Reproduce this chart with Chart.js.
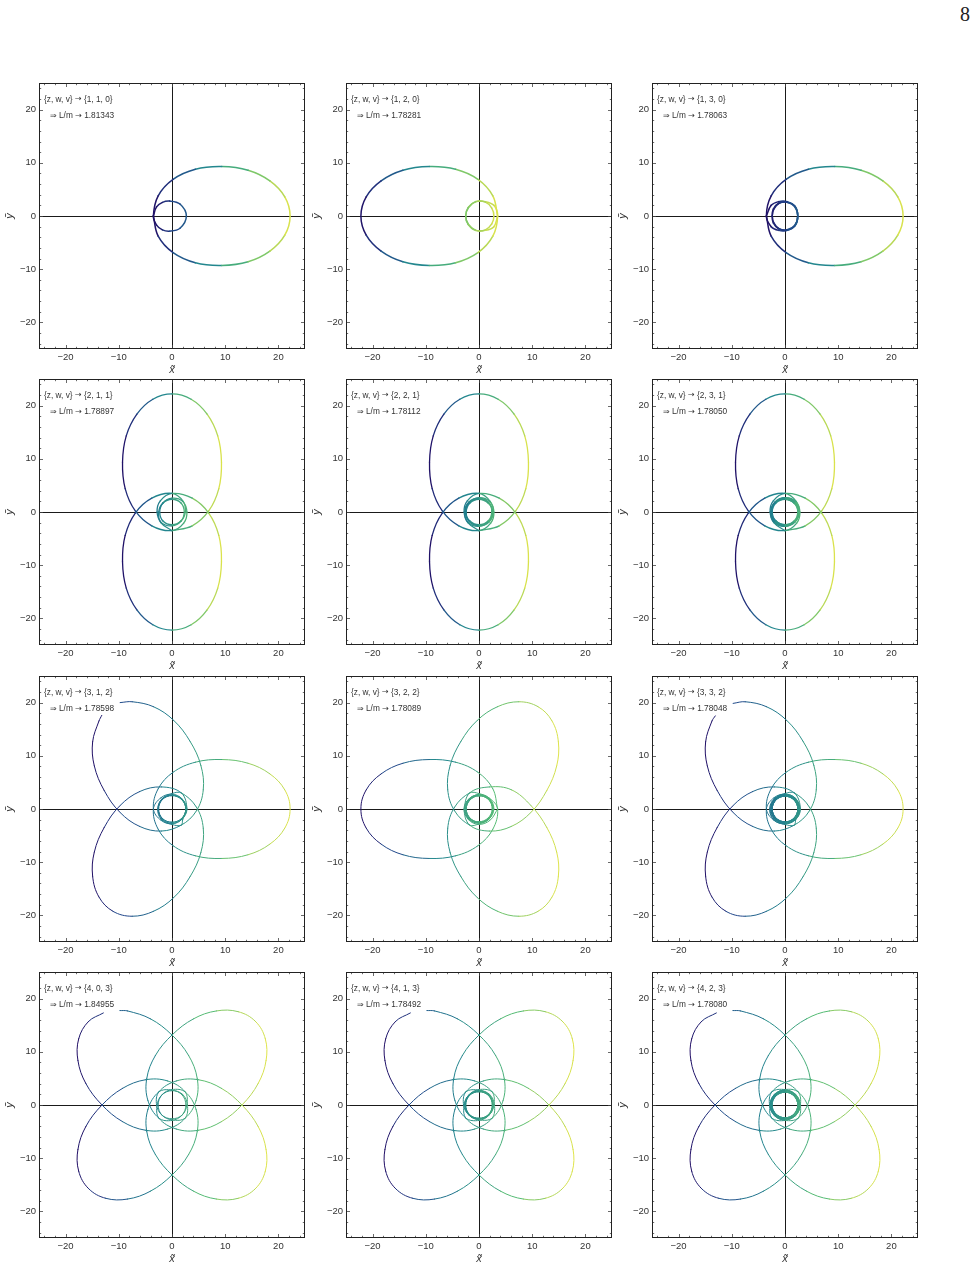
<!DOCTYPE html>
<html>
<head>
<meta charset="utf-8">
<script src="https://cdn.jsdelivr.net/npm/chart.js@4.4.1/dist/chart.umd.min.js"></script>
<style>
  html, body { margin: 0; padding: 0; background: #fff; }
  body { width: 976px; height: 1269px; position: relative; overflow: hidden; }
  .panel { position: absolute; }
  #pageNum { position: absolute; left: 960px; top: 3px; font: 20px 'Liberation Serif', 'Times New Roman', serif; color: #222; }
</style>
</head>
<body>
<div id="pageNum">8</div>
<script>
// orbit labels, row by row
const zwv = [[1, 1, 0], [1, 2, 0], [1, 3, 0], [2, 1, 1], [2, 2, 1], [2, 3, 1], [3, 1, 2], [3, 2, 2], [3, 3, 2], [4, 0, 3], [4, 1, 3], [4, 2, 3]];
const lOverM = ['1.81343', '1.78281', '1.78063', '1.78897', '1.78112', '1.78050', '1.78598', '1.78089', '1.78048', '1.84955', '1.78492', '1.78080'];
const tickValues = [-20, -10, 0, 10, 20];
const minorTicks = [-24, -22, -18, -16, -14, -12, -8, -6, -4, -2, 2, 4, 6, 8, 12, 14, 16, 18, 22, 24];

// leaves: periapsis -> apoapsis -> periapsis, counter-clockwise
const leafE = [[-3.5, 0], [-2.6, -3.8], [0.2, -6.9], [4.4, -8.8], [9.35, -9.3], [14.3, -8.6], [18.4, -6.6], [21.2, -3.6], [22.2, 0], [21.2, 3.6], [18.4, 6.6], [14.3, 8.6], [9.35, 9.3], [4.4, 8.8], [0.2, 6.9], [-2.6, 3.8], [-3.5, 0]];
const leafW = [[3.5, 0], [2.6, 3.8], [-0.2, 6.9], [-4.4, 8.8], [-9.35, 9.3], [-14.3, 8.6], [-18.4, 6.6], [-21.2, 3.6], [-22.2, 0], [-21.2, -3.6], [-18.4, -6.6], [-14.3, -8.6], [-9.35, -9.3], [-4.4, -8.8], [-0.2, -6.9], [2.6, -3.8], [3.5, 0]];
const leafN = [[0, -3.5], [3.8, -2.6], [6.9, 0.2], [8.8, 4.4], [9.3, 9.35], [8.6, 14.3], [6.6, 18.4], [3.6, 21.2], [0, 22.2], [-3.6, 21.2], [-6.6, 18.4], [-8.6, 14.3], [-9.3, 9.35], [-8.8, 4.4], [-6.9, 0.2], [-3.8, -2.6], [0, -3.5]];
const leafS = [[0, 3.5], [-3.8, 2.6], [-6.9, -0.2], [-8.8, -4.4], [-9.3, -9.35], [-8.6, -14.3], [-6.6, -18.4], [-3.6, -21.2], [0, -22.2], [3.6, -21.2], [6.6, -18.4], [8.6, -14.3], [9.3, -9.35], [8.8, -4.4], [6.9, -0.2], [3.8, 2.6], [0, 3.5]];
const leaf120 = [[1.75, -3.03], [4.59, -0.35], [5.88, 3.62], [5.42, 8.21], [3.38, 12.75], [0.3, 16.68], [-3.48, 19.23], [-7.48, 20.16], [-11.1, 19.23], [-13.72, 16.56], [-14.92, 12.63], [-14.6, 8.08], [-12.73, 3.45], [-9.82, -0.59], [-6.08, -3.28], [-1.99, -4.15], [1.75, -3.03]];
const leaf240 = [[1.75, 3.03], [-1.99, 4.15], [-6.08, 3.28], [-9.82, 0.59], [-12.73, -3.45], [-14.6, -8.08], [-14.92, -12.63], [-13.72, -16.56], [-11.1, -19.23], [-7.48, -20.16], [-3.48, -19.23], [0.3, -16.68], [3.38, -12.75], [5.42, -8.21], [5.88, -3.62], [4.59, 0.35], [1.75, 3.03]];
const leaf60 = [[-1.75, -3.03], [1.99, -4.15], [6.08, -3.28], [9.82, -0.59], [12.73, 3.45], [14.6, 8.08], [14.92, 12.63], [13.72, 16.56], [11.1, 19.23], [7.48, 20.16], [3.48, 19.23], [-0.3, 16.68], [-3.38, 12.75], [-5.42, 8.21], [-5.88, 3.62], [-4.59, -0.35], [-1.75, -3.03]];
const leaf300 = [[-1.75, 3.03], [-4.59, 0.35], [-5.88, -3.62], [-5.42, -8.21], [-3.38, -12.75], [-0.3, -16.68], [3.48, -19.23], [7.48, -20.16], [11.1, -19.23], [13.72, -16.56], [14.92, -12.63], [14.6, -8.08], [12.73, -3.45], [9.82, 0.59], [6.08, 3.62], [1.99, 4.15], [-1.75, 3.03]];
const leaf45 = [[-2.47, -2.47], [0.85, -4.53], [5.02, -4.74], [9.33, -3.11], [13.19, 0.04], [16.19, 4.03], [17.68, 8.34], [17.54, 12.45], [15.7, 15.7], [12.45, 17.54], [8.34, 17.68], [4.03, 16.19], [0.04, 13.19], [-3.11, 9.33], [-4.74, 5.02], [-4.53, 0.85], [-2.47, -2.47]];
const leaf135 = [[2.47, -2.47], [4.53, 0.85], [4.74, 5.02], [3.11, 9.33], [-0.04, 13.19], [-4.03, 16.19], [-8.34, 17.68], [-12.45, 17.54], [-15.7, 15.7], [-17.54, 12.45], [-17.68, 8.34], [-16.19, 4.03], [-13.19, 0.04], [-9.33, -3.11], [-5.02, -4.74], [-0.85, -4.53], [2.47, -2.47]];
const leaf225 = [[2.47, 2.47], [-0.85, 4.53], [-5.02, 4.74], [-9.33, 3.11], [-13.19, -0.04], [-16.19, -4.03], [-17.68, -8.34], [-17.54, -12.45], [-15.7, -15.7], [-12.45, -17.54], [-8.34, -17.68], [-4.03, -16.19], [-0.04, -13.19], [3.11, -9.33], [4.74, -5.02], [4.53, -0.85], [2.47, 2.47]];
const leaf315 = [[-2.47, 2.47], [-4.53, -0.85], [-4.74, -5.02], [-3.11, -9.33], [0.04, -13.19], [4.03, -16.19], [8.34, -17.68], [12.45, -17.54], [15.7, -15.7], [17.54, -12.45], [17.68, -8.34], [16.19, -4.03], [13.19, -0.04], [9.33, 3.11], [5.02, 4.74], [0.85, 4.53], [-2.47, 2.47]];

// whirls between leaves (inner points only)
const whirlA = [[-2.9, -1.7], [-1.8, -2.6], [-0.45, -2.85], [1.5, -2.3], [2.7, 0], [1.5, 2.25], [-0.45, 2.8], [-1.8, 2.55], [-2.9, 1.7]];
const whirlB = [[2.8, 2.0], [1.2, 2.7], [-0.6, 2.7], [-2.0, 1.6], [-2.5, 0], [-2.0, -1.6], [-0.6, -2.7], [1.2, -2.6], [2.4, -1.5], [2.8, 0], [2.4, 1.5], [1.2, 2.6], [-0.6, 2.7], [-2.0, 1.6], [-2.5, 0], [-2.0, -1.6], [-0.6, -2.7], [1.2, -2.7], [2.8, -2.0]];
const whirlC = [[-2.6, -2.0], [-1.2, -2.7], [0.4, -2.7], [1.9, -1.8], [2.4, 0], [1.9, 1.8], [0.4, 2.6], [-1.2, 2.4], [-2.2, 1.3], [-2.4, 0],
  [-2.1, -1.3], [-1.1, -2.4], [0.4, -2.6], [1.8, -1.8], [2.4, 0], [1.8, 1.8], [0.4, 2.6], [-1.1, 2.4], [-2.1, 1.3], [-2.4, 0],
  [-2.2, -1.3], [-1.2, -2.4], [0.4, -2.7], [1.9, -1.8], [2.4, 0], [1.9, 1.8], [0.4, 2.7], [-1.2, 2.7], [-2.6, 2.0]];
const whirlD1 = [[2.2, -2.1], [2.8, 0], [2.0, 2.0], [0, 2.6], [-1.7, 1.7], [-2.3, 0], [-1.7, -1.7], [0, -2.4], [1.7, -1.7], [2.5, 0], [2.1, 2.0]];
const whirlD2 = [[-2.2, 2.1], [-2.8, 0], [-2.0, -2.0], [0, -2.6], [1.7, -1.7], [2.3, 0], [1.7, 1.7], [0, 2.4], [-1.7, 1.7], [-2.5, 0], [-2.1, -2.0]];
const whirlE1 = [[2.2, -2.1], [2.8, 0], [2.0, 2.0], [0, 2.7], [-1.8, 1.8], [-2.5, 0], [-1.8, -1.8], [0, -2.5], [1.8, -1.8], [2.6, 0], [1.7, 1.7], [0, 2.4], [-1.7, 1.7], [-2.4, 0], [-1.8, -1.8], [0, -2.6], [1.9, -1.9], [2.7, 0], [2.1, 2.0]];
const whirlE2 = [[-2.2, 2.1], [-2.8, 0], [-2.0, -2.0], [0, -2.7], [1.8, -1.8], [2.5, 0], [1.8, 1.8], [0, 2.5], [-1.8, 1.8], [-2.6, 0], [-1.7, -1.7], [0, -2.4], [1.7, -1.7], [2.4, 0], [1.8, 1.8], [0, 2.6], [-1.9, 1.9], [-2.7, 0], [-2.1, -2.0]];
const whirlF1 = [[2.2, -2.1], [2.8, 0], [2.0, 2.0], [0, 2.7], [-1.8, 1.8], [-2.5, 0], [-1.8, -1.8], [0, -2.5], [1.8, -1.8], [2.6, 0], [1.7, 1.7], [0, 2.4], [-1.7, 1.7], [-2.4, 0], [-1.7, -1.7], [0, -2.4], [1.8, -1.8], [2.5, 0], [1.8, 1.8], [0, 2.6], [-1.8, 1.8], [-2.6, 0], [-1.9, -1.9], [0, -2.7], [1.9, -1.9], [2.7, 0], [2.1, 2.0]];
const whirlF2 = [[-2.2, 2.1], [-2.8, 0], [-2.0, -2.0], [0, -2.7], [1.8, -1.8], [2.5, 0], [1.8, 1.8], [0, 2.5], [-1.8, 1.8], [-2.6, 0], [-1.7, -1.7], [0, -2.4], [1.7, -1.7], [2.4, 0], [1.7, 1.7], [0, 2.4], [-1.8, 1.8], [-2.5, 0], [-1.8, -1.8], [0, -2.6], [1.8, -1.8], [2.6, 0], [1.9, 1.9], [0, 2.7], [-1.9, 1.9], [-2.7, 0], [-2.1, -2.0]];
const whirlG1 = [[2.0, -2.0], [2.8, 0], [1.9, 1.9], [0, 2.6], [-1.8, 1.8], [-2.5, 0], [-1.8, -1.8], [0, -2.5], [1.8, -1.8], [2.6, 0], [1.9, 1.9], [0, 2.8], [-2.1, 2.1]];
const whirlG2 = [[-2.1, -2.1], [0, -2.8], [1.9, -1.9], [2.6, 0], [1.8, 1.8], [0, 2.5], [-1.8, 1.8], [-2.6, 0], [-1.9, -1.9], [0, -2.7], [1.9, -1.9], [2.8, 0]];
const whirlG3 = [[0, 2.9], [-1.9, 1.9], [-2.6, 0], [-1.8, -1.8], [0, -2.5], [1.8, -1.8], [2.6, 0], [1.8, 1.8], [0, 2.6], [-1.9, 1.9], [-2.7, 0], [-2.0, -2.0], [0, -2.9]];
const whirlH1 = [[2.0, 2.0], [0, 2.7], [-1.8, 1.8], [-2.5, 0], [-1.8, -1.8], [0, -2.5], [1.8, -1.8], [2.6, 0], [1.8, 1.8], [0, 2.5], [-1.7, 1.7], [-2.4, 0], [-1.7, -1.7], [0, -2.5], [1.8, -1.8], [2.7, 0], [1.9, 1.9], [0, 2.7], [-1.9, 1.9], [-2.8, 0]];
const whirlH2 = [[0, -2.8], [1.9, -1.9], [2.6, 0], [1.8, 1.8], [0, 2.5], [-1.8, 1.8], [-2.5, 0], [-1.8, -1.8], [0, -2.4], [1.7, -1.7], [2.5, 0], [1.8, 1.8], [0, 2.6], [-1.8, 1.8], [-2.6, 0], [-1.9, -1.9], [0, -2.7], [1.9, -1.9], [2.8, 0], [2.0, 2.0], [0, 2.9]];
const whirlH3 = [[-2.7, 0], [-1.9, -1.9], [0, -2.6], [1.8, -1.8], [2.5, 0], [1.8, 1.8], [0, 2.5], [-1.7, 1.7], [-2.4, 0], [-1.7, -1.7], [0, -2.5], [1.8, -1.8], [2.6, 0], [1.9, 1.9], [0, 2.7], [-1.9, 1.9], [-2.8, 0], [-2.0, -2.0], [0, -2.9], [2.1, -2.1]];
const whirlI1 = [[2.0, -2.0], [2.8, 0], [1.9, 1.9], [0, 2.6], [-1.8, 1.8], [-2.5, 0], [-1.8, -1.8], [0, -2.5], [1.7, -1.7], [2.4, 0], [1.7, 1.7], [0, 2.4], [-1.7, 1.7], [-2.4, 0], [-1.7, -1.7], [0, -2.4], [1.8, -1.8], [2.5, 0], [1.8, 1.8], [0, 2.6], [-1.9, 1.9], [-2.6, 0], [-1.9, -1.9], [0, -2.7], [1.9, -1.9], [2.7, 0], [2.0, 2.0], [0, 2.8], [-2.1, 2.1]];
const whirlI2 = [[-2.1, -2.1], [0, -2.8], [1.9, -1.9], [2.6, 0], [1.8, 1.8], [0, 2.5], [-1.7, 1.7], [-2.4, 0], [-1.7, -1.7], [0, -2.4], [1.7, -1.7], [2.4, 0], [1.7, 1.7], [0, 2.5], [-1.8, 1.8], [-2.5, 0], [-1.8, -1.8], [0, -2.6], [1.9, -1.9], [2.7, 0], [1.9, 1.9], [0, 2.7], [-1.9, 1.9], [-2.8, 0], [-2.0, -2.0], [0, -2.8], [2.0, -2.0], [2.9, 0]];
const whirlI3 = [[0, 2.9], [-1.9, 1.9], [-2.6, 0], [-1.8, -1.8], [0, -2.5], [1.7, -1.7], [2.4, 0], [1.7, 1.7], [0, 2.4], [-1.7, 1.7], [-2.4, 0], [-1.7, -1.7], [0, -2.5], [1.8, -1.8], [2.6, 0], [1.8, 1.8], [0, 2.6], [-1.9, 1.9], [-2.7, 0], [-1.9, -1.9], [0, -2.7], [2.0, -2.0], [2.8, 0], [2.0, 2.0], [0, 2.8], [-2.0, 2.0], [-2.9, 0], [-2.1, -2.1], [0, -2.9]];
const whirlJ1 = [[2.9, 0], [2.0, 2.0], [0, 2.7], [-1.9, 1.9], [-2.8, 0]];
const whirlJ2 = [[0, -2.9], [1.9, -1.9], [2.6, 0], [1.9, 1.9], [0, 2.8]];
const whirlJ3 = [[-2.9, 0], [-1.9, -1.9], [0, -2.6], [1.9, -1.9], [2.8, 0]];
const whirlJ4 = [[0, 2.9], [-1.9, 1.9], [-2.6, 0], [-1.9, -1.9], [0, -2.8]];
const whirlK1 = [[2.9, 0], [2.0, 2.0], [0, 2.7], [-1.8, 1.8], [-2.5, 0], [-1.8, -1.8], [0, -2.5], [1.8, -1.8], [2.6, 0], [1.9, 1.9], [0, 2.7], [-1.9, 1.9], [-2.8, 0]];
const whirlK2 = [[0, -2.9], [1.9, -1.9], [2.6, 0], [1.8, 1.8], [0, 2.5], [-1.8, 1.8], [-2.5, 0], [-1.8, -1.8], [0, -2.6], [1.9, -1.9], [2.7, 0], [1.9, 1.9], [0, 2.8]];
const whirlK3 = [[-2.9, 0], [-1.9, -1.9], [0, -2.6], [1.8, -1.8], [2.5, 0], [1.8, 1.8], [0, 2.5], [-1.8, 1.8], [-2.6, 0], [-1.9, -1.9], [0, -2.7], [1.9, -1.9], [2.8, 0]];
const whirlK4 = [[0, 2.9], [-1.9, 1.9], [-2.6, 0], [-1.8, -1.8], [0, -2.5], [1.8, -1.8], [2.5, 0], [1.8, 1.8], [0, 2.6], [-1.9, 1.9], [-2.7, 0], [-1.9, -1.9], [0, -2.8]];
const whirlL1 = [[2.9, 0], [2.0, 2.0], [0, 2.7], [-1.8, 1.8], [-2.5, 0], [-1.7, -1.7], [0, -2.4], [1.7, -1.7], [2.4, 0], [1.7, 1.7], [0, 2.5], [-1.8, 1.8], [-2.5, 0], [-1.8, -1.8], [0, -2.6], [1.9, -1.9], [2.7, 0], [1.9, 1.9], [0, 2.8], [-2.0, 2.0], [-2.8, 0]];
const whirlL2 = [[0, -2.9], [1.9, -1.9], [2.6, 0], [1.8, 1.8], [0, 2.4], [-1.7, 1.7], [-2.4, 0], [-1.7, -1.7], [0, -2.5], [1.8, -1.8], [2.5, 0], [1.8, 1.8], [0, 2.6], [-1.9, 1.9], [-2.7, 0], [-1.9, -1.9], [0, -2.7], [2.0, -2.0], [2.8, 0], [2.0, 2.0], [0, 2.9]];
const whirlL3 = [[-2.9, 0], [-1.9, -1.9], [0, -2.6], [1.7, -1.7], [2.4, 0], [1.7, 1.7], [0, 2.4], [-1.7, 1.7], [-2.5, 0], [-1.8, -1.8], [0, -2.6], [1.9, -1.9], [2.6, 0], [1.9, 1.9], [0, 2.7], [-1.9, 1.9], [-2.8, 0], [-2.0, -2.0], [0, -2.8], [2.0, -2.0], [2.9, 0]];
const whirlL4 = [[0, 2.9], [-1.9, 1.9], [-2.6, 0], [-1.7, -1.7], [0, -2.4], [1.7, -1.7], [2.4, 0], [1.7, 1.7], [0, 2.5], [-1.8, 1.8], [-2.6, 0], [-1.9, -1.9], [0, -2.6], [1.9, -1.9], [2.7, 0], [1.9, 1.9], [0, 2.8], [-2.0, 2.0], [-2.8, 0], [-2.0, -2.0], [0, -2.9]];

// open ends of the orbits that do not close (start, end)
const gapG = [[-13.2, 17.6], [-9.75, 20.0]];
const gapI = [[-13.1, 17.5], [-9.75, 19.85]];
const gapRow4 = [[-12.9, 17.3], [-9.8, 17.75]];

const paths = [
  [...leafE, ...whirlA, leafE[0]],
  [...leafW, ...whirlB, leafW[0]],
  [...leafE, ...whirlC, leafE[0]],
  [...leafN, ...whirlD1, ...leafS, ...whirlD2, leafN[0]],
  [...leafN, ...whirlE1, ...leafS, ...whirlE2, leafN[0]],
  [...leafN, ...whirlF1, ...leafS, ...whirlF2, leafN[0]],
  [gapG[0], ...leaf120.slice(9), ...whirlG1, ...leafE, ...whirlG2, ...leaf240, ...whirlG3, ...leaf120.slice(0, 8), gapG[1]],
  [...leafW, ...whirlH1, ...leaf60, ...whirlH2, ...leaf300, ...whirlH3, leafW[0]],
  [gapI[0], ...leaf120.slice(9), ...whirlI1, ...leafE, ...whirlI2, ...leaf240, ...whirlI3, ...leaf120.slice(0, 8), gapI[1]],
  [gapRow4[0], ...leaf135.slice(8), ...whirlJ1, ...leaf45, ...whirlJ2, ...leaf315, ...whirlJ3, ...leaf225, ...whirlJ4, ...leaf135.slice(0, 7), gapRow4[1]],
  [gapRow4[0], ...leaf135.slice(8), ...whirlK1, ...leaf45, ...whirlK2, ...leaf315, ...whirlK3, ...leaf225, ...whirlK4, ...leaf135.slice(0, 7), gapRow4[1]],
  [gapRow4[0], ...leaf135.slice(8), ...whirlL1, ...leaf45, ...whirlL2, ...leaf315, ...whirlL3, ...leaf225, ...whirlL4, ...leaf135.slice(0, 7), gapRow4[1]]
];

// layout of the plot frames on the page
const colLeft = [39, 346, 652];
const rowTop = [83, 379, 676, 972];
const rowLineWidth = [1.5, 1.3, 1.0, 1.0];
const family = "'Liberation Sans', Arial, sans-serif";

// blue-green-yellow gradient
const gradStops = [[0, [32, 12, 100]], [0.15, [32, 70, 138]], [0.4, [34, 134, 142]], [0.68, [86, 188, 116]], [1, [224, 228, 74]]];
function gradColor(t) {
  t = Math.min(1, Math.max(0, t));
  for (let i = 1; i < gradStops.length; i++) {
    if (t <= gradStops[i][0]) {
      const [t0, c0] = gradStops[i - 1];
      const [t1, c1] = gradStops[i];
      const f = (t - t0) / (t1 - t0);
      return 'rgb(' + c0.map((c, k) => Math.round(c + (c1[k] - c) * f)).join(',') + ')';
    }
  }
  return 'rgb(224,228,74)';
}

// label text with the arrows taken from DejaVu, whose arrows are longer
function drawLabel(ctx, text, x, y) {
  let cx = x;
  text.split(/([\u2192\u21D2])/).forEach(part => {
    if (!part) return;
    const arrow = part === '\u2192' || part === '\u21D2';
    ctx.font = arrow ? "8px 'DejaVu Sans', sans-serif" : '8.3px ' + family;
    ctx.fillText(part, cx, y);
    cx += ctx.measureText(part).width;
  });
}

// frame, inward ticks and the label in the corner
const frameTicks = {
  id: 'frameTicks',
  afterDraw(chart, args, opts) {
    const { ctx, chartArea: a } = chart;
    const x = chart.scales.x, y = chart.scales.y;
    ctx.save();
    ctx.strokeStyle = '#444';
    ctx.lineWidth = 0.8;
    ctx.beginPath();
    const mark = (v, len) => {
      const px = Math.round(x.getPixelForValue(v)) + 0.5;
      const py = Math.round(y.getPixelForValue(v)) + 0.5;
      ctx.moveTo(px, a.bottom); ctx.lineTo(px, a.bottom - len);
      ctx.moveTo(px, a.top); ctx.lineTo(px, a.top + len);
      ctx.moveTo(a.left, py); ctx.lineTo(a.left + len, py);
      ctx.moveTo(a.right, py); ctx.lineTo(a.right - len, py);
    };
    tickValues.forEach(v => mark(v, 4));
    minorTicks.forEach(v => mark(v, 2.2));
    ctx.stroke();
    ctx.strokeStyle = '#222';
    ctx.lineWidth = 1;
    ctx.strokeRect(a.left + 0.5, a.top + 0.5, a.width - 1, a.height - 1);
    ctx.fillStyle = '#333';
    ctx.textBaseline = 'middle';
    drawLabel(ctx, opts.line1, a.left + 5, a.top + 16.3);
    drawLabel(ctx, opts.line2, a.left + 11, a.top + 32.7);
    ctx.restore();
  }
};

function axis(title, fit, titlePad) {
  return {
    type: 'linear',
    min: -25,
    max: 25,
    afterBuildTicks: s => { s.ticks = tickValues.map(v => ({ value: v })); },
    afterFit: s => {
      fit(s);
      // no extra room for the outer labels, the frame stays 266 px
      s.paddingTop = 0; s.paddingBottom = 0; s.paddingLeft = 0; s.paddingRight = 0;
    },
    ticks: {
      callback: v => v < 0 ? '\u2212' + (-v) : String(v),
      font: { size: 9.5, family },
      color: '#333',
      padding: 3,
      maxRotation: 0,
      autoSkip: false
    },
    grid: {
      color: c => (c.tick && c.tick.value === 0) ? '#1a1a1a' : 'rgba(0,0,0,0)',
      lineWidth: 1,
      drawTicks: false
    },
    border: { display: false },
    title: { display: true, text: title, color: '#333', font: { size: 11, style: 'italic', family }, padding: titlePad }
  };
}

paths.forEach((path, i) => {
  const row = Math.floor(i / 3), col = i % 3;
  const canvas = document.createElement('canvas');
  canvas.className = 'panel';
  canvas.width = 309;
  canvas.height = 297;
  canvas.style.left = (colLeft[col] - 39) + 'px';
  canvas.style.top = (rowTop[row] - 1) + 'px';
  canvas.style.width = '309px';
  canvas.style.height = '297px';
  document.body.appendChild(canvas);

  const xs = path.map(p => p[0]);
  const lo = Math.min(...xs), hi = Math.max(...xs);

  new Chart(canvas, {
    type: 'scatter',
    data: {
      datasets: [{
        data: path.map(p => ({ x: p[0], y: p[1] })),
        showLine: true,
        pointRadius: 0,
        tension: 0.38,
        borderWidth: rowLineWidth[row],
        borderCapStyle: 'round',
        borderJoinStyle: 'round',
        borderColor: gradColor(0.5),
        segment: {
          borderColor: c => gradColor(((c.p0.parsed.x + c.p1.parsed.x) / 2 - lo) / (hi - lo))
        }
      }]
    },
    options: {
      responsive: false,
      animation: false,
      events: [],
      layout: { padding: { top: 1, right: 4, bottom: 0, left: 0 } },
      plugins: {
        legend: { display: false },
        tooltip: { enabled: false },
        frameTicks: {
          line1: '{z, w, v} \u2192 {' + zwv[i].join(', ') + '}',
          line2: '\u21D2 L/m \u2192 ' + lOverM[i]
        }
      },
      scales: {
        x: axis('x\u0303', s => { s.height = 30; }, { top: 0, bottom: 2 }),
        y: axis('y\u0303', s => { s.width = 39; }, { top: 3, bottom: 0 })
      }
    },
    plugins: [frameTicks]
  });
});
</script>
</body>
</html>
